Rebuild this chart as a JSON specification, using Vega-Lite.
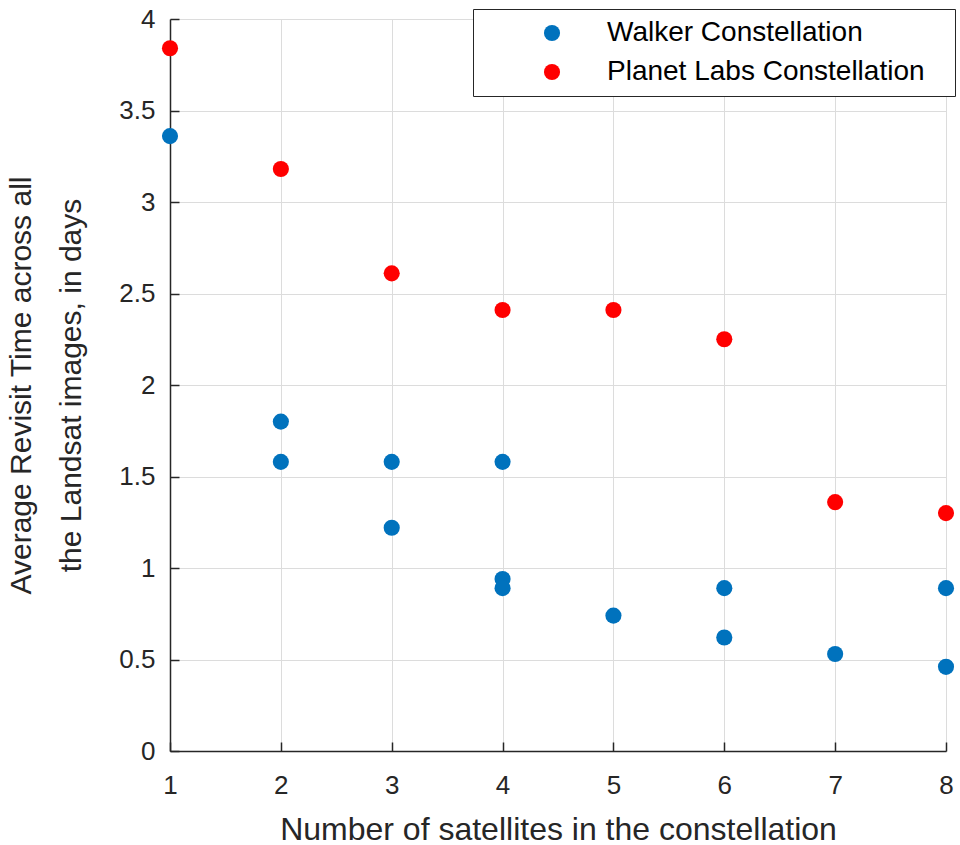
{
  "$schema": "https://vega.github.io/schema/vega-lite/v6.json",
  "width": 776,
  "height": 732,
  "autosize": {"type": "none"},
  "padding": {"left": 170, "top": 19, "right": 14, "bottom": 94},
  "background": "white",
  "data": {
    "values": [
      {"n": 1, "t": 3.84, "series": "Planet Labs Constellation"},
      {"n": 2, "t": 3.18, "series": "Planet Labs Constellation"},
      {"n": 3, "t": 2.61, "series": "Planet Labs Constellation"},
      {"n": 4, "t": 2.41, "series": "Planet Labs Constellation"},
      {"n": 5, "t": 2.41, "series": "Planet Labs Constellation"},
      {"n": 6, "t": 2.25, "series": "Planet Labs Constellation"},
      {"n": 7, "t": 1.36, "series": "Planet Labs Constellation"},
      {"n": 8, "t": 1.30, "series": "Planet Labs Constellation"},
      {"n": 1, "t": 3.36, "series": "Walker Constellation"},
      {"n": 2, "t": 1.80, "series": "Walker Constellation"},
      {"n": 2, "t": 1.58, "series": "Walker Constellation"},
      {"n": 3, "t": 1.58, "series": "Walker Constellation"},
      {"n": 3, "t": 1.22, "series": "Walker Constellation"},
      {"n": 4, "t": 1.58, "series": "Walker Constellation"},
      {"n": 4, "t": 0.94, "series": "Walker Constellation"},
      {"n": 4, "t": 0.89, "series": "Walker Constellation"},
      {"n": 5, "t": 0.74, "series": "Walker Constellation"},
      {"n": 6, "t": 0.89, "series": "Walker Constellation"},
      {"n": 6, "t": 0.62, "series": "Walker Constellation"},
      {"n": 7, "t": 0.53, "series": "Walker Constellation"},
      {"n": 8, "t": 0.89, "series": "Walker Constellation"},
      {"n": 8, "t": 0.46, "series": "Walker Constellation"}
    ]
  },
  "mark": {"type": "circle", "size": 260, "opacity": 1},
  "encoding": {
    "x": {
      "field": "n",
      "type": "quantitative",
      "scale": {"domain": [1, 8], "nice": false, "zero": false},
      "axis": {
        "title": "Number of satellites in the constellation",
        "values": [1, 2, 3, 4, 5, 6, 7, 8],
        "format": "d",
        "tickSize": -9,
        "labelPadding": 30,
        "labelFontSize": 26,
        "titleFontSize": 32,
        "titlePadding": 16,
        "labelFlush": false
      }
    },
    "y": {
      "field": "t",
      "type": "quantitative",
      "scale": {"domain": [0, 4], "nice": false},
      "axis": {
        "title": ["Average Revisit Time across all", "the Landsat images, in days"],
        "values": [0, 0.5, 1, 1.5, 2, 2.5, 3, 3.5, 4],
        "format": "~g",
        "tickSize": -9,
        "labelPadding": 24,
        "labelFontSize": 26,
        "titleFontSize": 30,
        "titleLineHeight": 50,
        "titlePadding": 32,
        "labelFlush": false
      }
    },
    "color": {
      "field": "series",
      "type": "nominal",
      "scale": {
        "domain": ["Walker Constellation", "Planet Labs Constellation"],
        "range": ["#0072BD", "#FF0000"]
      },
      "legend": {
        "title": " ",
        "titleOrient": "right",
        "titlePadding": 20,
        "orient": "none",
        "legendX": 303,
        "legendY": -10,
        "strokeColor": "#262626",
        "fillColor": "white",
        "padding": 10,
        "symbolType": "circle",
        "symbolSize": 260,
        "symbolOffset": 55,
        "labelOffset": 41,
        "labelFontSize": 28,
        "labelLimit": 600,
        "rowPadding": 11,
        "labelColor": "#000000",
        "labelFont": "Liberation Sans"
      }
    }
  },
  "config": {
    "view": {"stroke": null},
    "font": "Liberation Sans",
    "axis": {
      "grid": true,
      "gridColor": "#dcdcdc",
      "gridWidth": 1,
      "domainColor": "#262626",
      "domainWidth": 1.5,
      "tickColor": "#262626",
      "tickWidth": 1.5,
      "labelColor": "#262626",
      "titleColor": "#262626",
      "labelFont": "Liberation Sans",
      "titleFont": "Liberation Sans",
      "titleFontWeight": "normal"
    }
  }
}
